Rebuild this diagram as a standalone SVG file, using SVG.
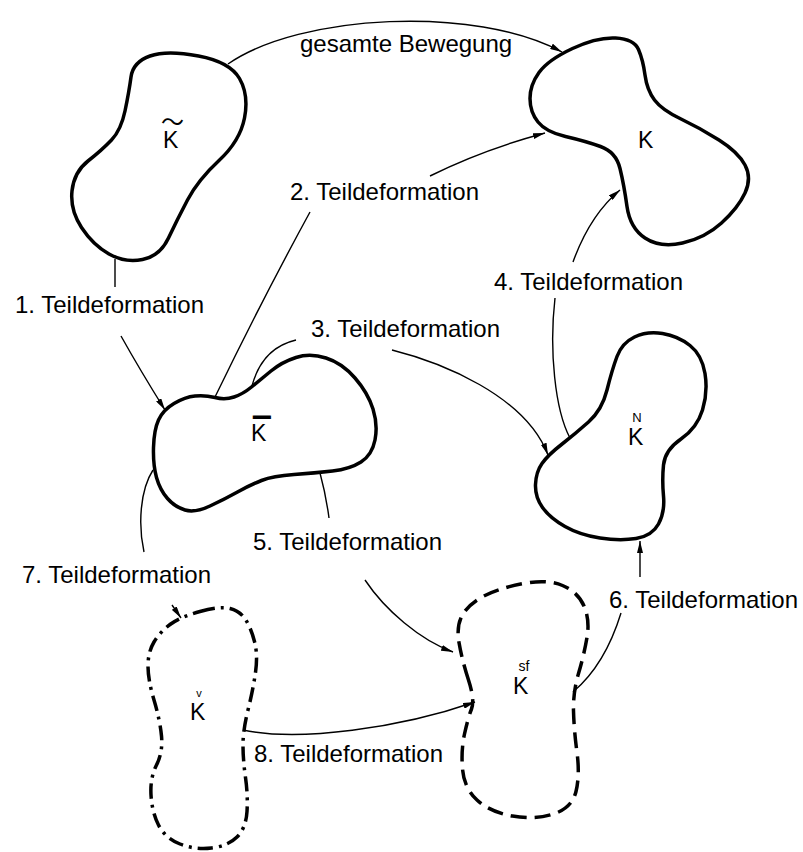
<svg xmlns="http://www.w3.org/2000/svg" width="803" height="852" viewBox="0 0 803 852">
<defs>
<style>
.body{fill:none;stroke:#000;stroke-width:3.5;stroke-linejoin:round}
.sf{stroke-dasharray:16 8}
.v{stroke-dasharray:15 6 3 6}
.con{fill:none;stroke:#000;stroke-width:1.4}
.arr{marker-end:url(#ah)}
text{font-family:"Liberation Sans","DejaVu Sans","Noto Sans CJK JP",Arial,sans-serif;fill:#000}
.lbl{font-size:24px}
.k{font-size:23px}
.sup{text-anchor:middle}
</style>
<marker id="ah" viewBox="0 0 12 6" refX="12" refY="3" markerWidth="12" markerHeight="6" markerUnits="userSpaceOnUse" orient="auto">
<path d="M0,0 L12,3 L0,6 z" fill="#000"/>
</marker>
</defs>
<rect width="803" height="852" fill="#fff"/>

<g id="connectors">
<path class="con arr" d="M228,64 C300,14 475,5 562,52"/>
<path class="con arr" d="M115,259 V287 M121,336 Q140,370 165,410"/>
<path class="con arr" d="M215,397 Q262,300 310,212 M430,176 Q482,150 545,133"/>
<path class="con arr" d="M252,386 Q262,348 296,340 M392,350 C440,362 525,395 548,455"/>
<path class="con arr" d="M570,438 C555,410 549,350 555,298 M573,262 Q590,215 620,190"/>
<path class="con arr" d="M320,473 Q326,495 329,518 M365,580 C385,610 420,640 453,652"/>
<path class="con arr" d="M573,692 Q605,665 621,613 M640,577 V541"/>
<path class="con arr" d="M153,470 C140,490 138,525 144,552 M172,605 L181,618"/>
<path class="con arr" d="M243,730 C300,742 400,728 475,702"/>
</g>

<g id="edge-labels">
<text class="lbl" x="300" y="52">gesamte Bewegung</text>
<text class="lbl" x="15" y="313">1. Teildeformation</text>
<text class="lbl" x="290" y="200">2. Teildeformation</text>
<text class="lbl" x="311" y="337">3. Teildeformation</text>
<text class="lbl" x="494" y="290">4. Teildeformation</text>
<text class="lbl" x="253" y="550">5. Teildeformation</text>
<text class="lbl" x="609" y="608">6. Teildeformation</text>
<text class="lbl" x="22" y="583">7. Teildeformation</text>
<text class="lbl" x="254" y="762">8. Teildeformation</text>
</g>

<g id="node-K-tilde">
<path class="body" d="M150,56 Q167,50 198.5,56 Q230,62 239.5,78.5 Q249,95 244.5,118 Q240,141 219,160.5 Q198,180 187.5,200 Q177,220 168.5,238 Q160,256 142.5,259.5 Q125,263 109,254 Q93,245 81.5,227.5 Q70,210 72,191 Q74,172 88,161 Q102,150 111.5,140 Q121,130 125,111 Q129,92 131,77 Q133,62 150,56 Z"/>
<text class="k" x="163 161" y="148 130">K～</text>
</g>

<g id="node-K">
<path class="body" d="M572.5,48.5 Q597,37 615.5,38 Q634,39 638.5,49.5 Q643,60 645,75 Q647,90 654.5,100 Q662,110 681,119 Q700,128 719,140 Q738,152 745,165 Q752,178 745,193 Q738,208 721.5,223 Q705,238 682.5,243 Q660,248 645,238 Q630,228 627,206.5 Q624,185 620,168.5 Q616,152 600.5,146.5 Q585,141 565.5,136.5 Q546,132 538,122 Q530,112 530,98.5 Q530,85 539,72.5 Q548,60 572.5,48.5 Z"/>
<text class="k" x="638" y="148">K</text>
</g>

<g id="node-K-bar">
<path class="body" d="M174,403.5 Q185,397 195,396 Q205,395 215,397.5 Q225,400 234,397 Q243,394 251.5,387 Q260,380 271,371 Q282,362 296,357.5 Q310,353 326,358 Q342,363 355,378 Q368,393 373,409 Q378,425 375,440 Q372,455 361,462 Q350,469 332.5,471 Q315,473 294,474.5 Q273,476 261.5,480.5 Q250,485 237.5,492 Q225,499 210,506 Q195,513 185,510 Q175,507 167.5,498.5 Q160,490 156.5,477.5 Q153,465 153.5,447.5 Q154,430 158.5,420 Q163,410 174,403.5 Z"/>
<text class="k" x="251 253" y="441 437">K▔</text>
</g>

<g id="node-K-N">
<path class="body" d="M561.5,444.5 Q575,434 588.5,422 Q602,410 607,390 Q612,370 617,356.5 Q622,343 634.5,337 Q647,331 662.5,333.5 Q678,336 690,345.5 Q702,355 705,373.5 Q708,392 702.5,410 Q697,428 681,439 Q665,450 663.5,465 Q662,480 663.5,496 Q665,512 658.5,524 Q652,536 636,538.5 Q620,541 600,538 Q580,535 565,526.5 Q550,518 542.5,507.5 Q535,497 535.5,484.5 Q536,472 542,463.5 Q548,455 561.5,444.5 Z"/>
<text class="k" x="628" y="445">K</text>
<text class="sup" x="637" y="422" style="font-size:13px">N</text>
</g>

<g id="node-K-sf">
<path class="body sf" d="M468.5,680 Q462,660 459,642.5 Q456,625 463,614 Q470,603 485,595.5 Q500,588 523.5,583.5 Q547,579 562.5,585.5 Q578,592 584,606 Q590,620 587,637.5 Q584,655 578.5,673.5 Q573,692 573.5,711 Q574,730 577,752.5 Q580,775 576,791.5 Q572,808 553.5,814 Q535,820 512.5,816 Q490,812 477,800 Q464,788 462.5,769 Q461,750 464.5,734 Q468,718 471.5,709 Q475,700 468.5,680 Z"/>
<text class="k" x="513" y="694">K</text>
<text class="sup" x="524" y="671" style="font-size:14px">sf</text>
</g>

<g id="node-K-v">
<path class="body v" d="M200,611.5 Q220,606 230,608.5 Q240,611 245.5,619.5 Q251,628 254.5,641.5 Q258,655 255.5,672.5 Q253,690 248,710 Q243,730 243,745 Q243,760 245.5,777.5 Q248,795 247,811.5 Q246,828 237,837 Q228,846 211.5,848 Q195,850 180,844 Q165,838 158.5,825 Q152,812 151,795 Q150,778 156.5,765 Q163,752 161.5,736 Q160,720 154,700 Q148,680 148,666 Q148,652 154,642 Q160,632 170,624.5 Q180,617 200,611.5 Z"/>
<text class="k" x="190" y="720">K</text>
<text class="sup" x="199" y="697" style="font-size:11px">v</text>
</g>
</svg>
